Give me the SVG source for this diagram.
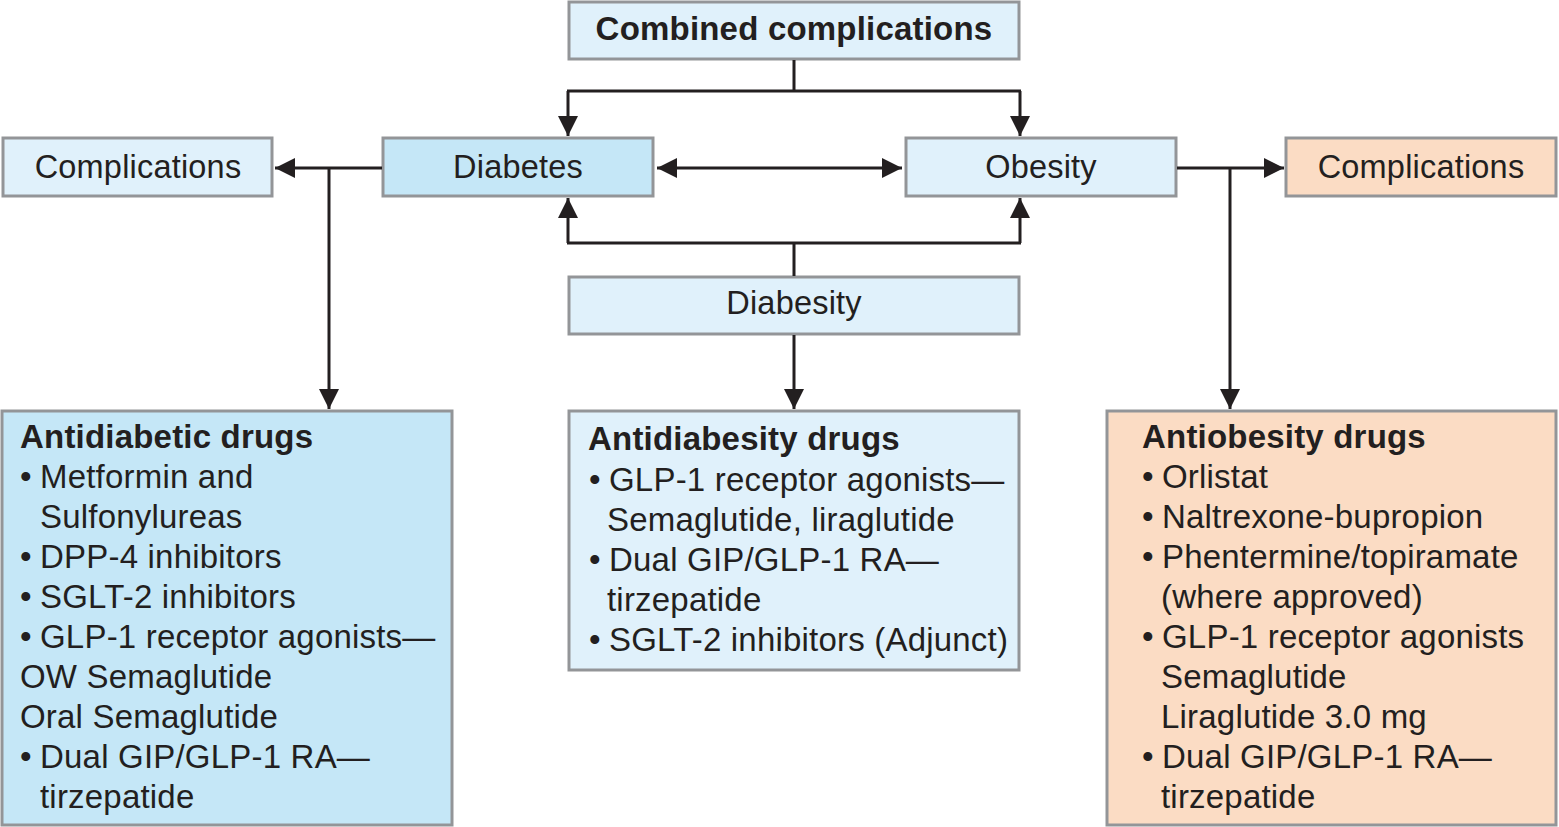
<svg xmlns="http://www.w3.org/2000/svg" width="1559" height="827" viewBox="0 0 1559 827">
<defs>
<marker id="arr" markerUnits="userSpaceOnUse" markerWidth="20" markerHeight="20" refX="20" refY="10" orient="auto-start-reverse">
<path d="M0,0 L20,10 L0,20 z" fill="#231f20"/>
</marker>
<style>
.box{stroke:#939598;stroke-width:3}
.light{fill:#e0f1fb}
.blue{fill:#c5e7f7}
.peach{fill:#fbdcc4}
text{font-family:"Liberation Sans",Arial,sans-serif;fill:#231f20;letter-spacing:0.2px}
.t{font-size:32.5px;text-anchor:middle}
.tb{font-size:33px;font-weight:bold;text-anchor:middle}
.h{font-size:33px;font-weight:bold}
.b{font-size:33px}
.ln{stroke:#231f20;stroke-width:3;fill:none}
</style>
</defs>
<rect width="1559" height="827" fill="#ffffff"/>
<g id="combined">
<rect class="box light" x="569" y="2" width="450" height="57"/>
<text class="tb" x="794" y="40">Combined complications</text>
</g>
<g id="complications-left">
<rect class="box light" x="3" y="138" width="269" height="58"/>
<text class="t" x="138" y="178">Complications</text>
</g>
<g id="diabetes">
<rect class="box blue" x="383" y="138" width="270" height="58"/>
<text class="t" x="518" y="178">Diabetes</text>
</g>
<g id="obesity">
<rect class="box light" x="906" y="138" width="270" height="58"/>
<text class="t" x="1041" y="178">Obesity</text>
</g>
<g id="complications-right">
<rect class="box peach" x="1286" y="138" width="270" height="58"/>
<text class="t" x="1421" y="178">Complications</text>
</g>
<g id="diabesity">
<rect class="box light" x="569" y="277" width="450" height="57"/>
<text class="t" x="794" y="314">Diabesity</text>
</g>
<g id="antidiabetic">
<rect class="box blue" x="2" y="411" width="450" height="414"/>
<text class="h" x="20" y="448">Antidiabetic drugs</text>
<text class="b" x="20" y="488">•</text><text class="b" x="40" y="488">Metformin and</text>
<text class="b" x="40" y="528">Sulfonylureas</text>
<text class="b" x="20" y="568">•</text><text class="b" x="40" y="568">DPP-4 inhibitors</text>
<text class="b" x="20" y="608">•</text><text class="b" x="40" y="608">SGLT-2 inhibitors</text>
<text class="b" x="20" y="648">•</text><text class="b" x="40" y="648">GLP-1 receptor agonists—</text>
<text class="b" x="20" y="688">OW Semaglutide</text>
<text class="b" x="20" y="728">Oral Semaglutide</text>
<text class="b" x="20" y="768">•</text><text class="b" x="40" y="768">Dual GIP/GLP-1 RA—</text>
<text class="b" x="40" y="808">tirzepatide</text>
</g>
<g id="antidiabesity">
<rect class="box light" x="569" y="411" width="450" height="259"/>
<text class="h" x="588" y="450">Antidiabesity drugs</text>
<text class="b" x="589" y="491">•</text><text class="b" x="609" y="491">GLP-1 receptor agonists—</text>
<text class="b" x="607" y="531">Semaglutide, liraglutide</text>
<text class="b" x="589" y="571">•</text><text class="b" x="609" y="571">Dual GIP/GLP-1 RA—</text>
<text class="b" x="607" y="611">tirzepatide</text>
<text class="b" x="589" y="651">•</text><text class="b" x="609" y="651">SGLT-2 inhibitors (Adjunct)</text>
</g>
<g id="antiobesity">
<rect class="box peach" x="1107" y="411" width="449" height="414"/>
<text class="h" x="1142" y="448">Antiobesity drugs</text>
<text class="b" x="1142" y="488">•</text><text class="b" x="1162" y="488">Orlistat</text>
<text class="b" x="1142" y="528">•</text><text class="b" x="1162" y="528">Naltrexone-bupropion</text>
<text class="b" x="1142" y="568">•</text><text class="b" x="1162" y="568">Phentermine/topiramate</text>
<text class="b" x="1161" y="608">(where approved)</text>
<text class="b" x="1142" y="648">•</text><text class="b" x="1162" y="648">GLP-1 receptor agonists</text>
<text class="b" x="1161" y="688">Semaglutide</text>
<text class="b" x="1161" y="728">Liraglutide 3.0 mg</text>
<text class="b" x="1142" y="768">•</text><text class="b" x="1162" y="768">Dual GIP/GLP-1 RA—</text>
<text class="b" x="1161" y="808">tirzepatide</text>
</g>
<g id="connectors">
<path class="ln" d="M794,60 V91 M567,91 H1021"/>
<path class="ln" d="M568,91 V136" marker-end="url(#arr)"/>
<path class="ln" d="M1020,91 V136" marker-end="url(#arr)"/>
<path class="ln" d="M657,168 H902" marker-start="url(#arr)" marker-end="url(#arr)"/>
<path class="ln" d="M382,168 H275" marker-end="url(#arr)"/>
<path class="ln" d="M329,168 V409" marker-end="url(#arr)"/>
<path class="ln" d="M1177,168 H1284" marker-end="url(#arr)"/>
<path class="ln" d="M1230,168 V409" marker-end="url(#arr)"/>
<path class="ln" d="M794,276 V243 M567,243 H1021"/>
<path class="ln" d="M568,243 V198" marker-end="url(#arr)"/>
<path class="ln" d="M1020,243 V198" marker-end="url(#arr)"/>
<path class="ln" d="M794,335 V409" marker-end="url(#arr)"/>
</g>
</svg>
